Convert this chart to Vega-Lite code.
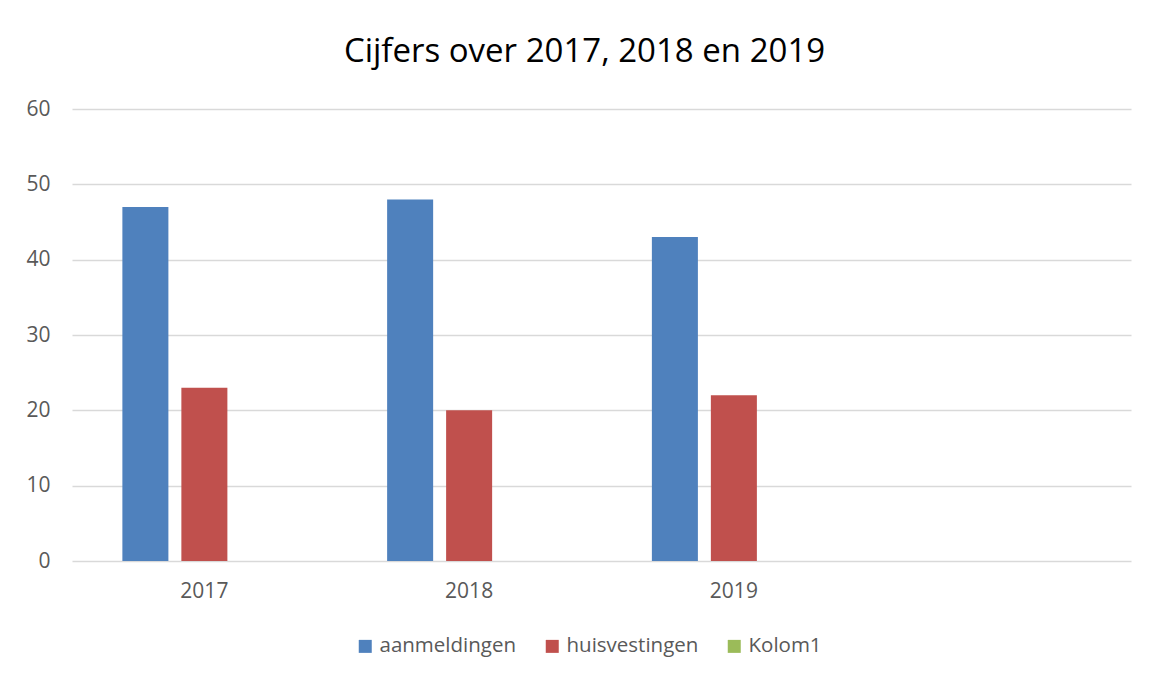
{
  "$schema": "https://vega.github.io/schema/vega-lite/v6.json",
  "autosize": {"type": "none"},
  "width": 1059,
  "height": 452,
  "padding": {"left": 72, "top": 109, "right": 22, "bottom": 113},
  "background": "white",
  "title": {
    "text": "Cijfers over 2017, 2018 en 2019",
    "font": "Open Sans",
    "fontSize": 33,
    "fontWeight": "normal",
    "color": "#000000",
    "anchor": "middle",
    "dx": -17,
    "offset": 29
  },
  "data": {
    "values": [
      {"jaar": "2017", "reeks": "aanmeldingen", "waarde": 47},
      {"jaar": "2017", "reeks": "huisvestingen", "waarde": 23},
      {"jaar": "2017", "reeks": "Kolom1", "waarde": 0},
      {"jaar": "2018", "reeks": "aanmeldingen", "waarde": 48},
      {"jaar": "2018", "reeks": "huisvestingen", "waarde": 20},
      {"jaar": "2018", "reeks": "Kolom1", "waarde": 0},
      {"jaar": "2019", "reeks": "aanmeldingen", "waarde": 43},
      {"jaar": "2019", "reeks": "huisvestingen", "waarde": 22},
      {"jaar": "2019", "reeks": "Kolom1", "waarde": 0}
    ]
  },
  "mark": {"type": "bar"},
  "encoding": {
    "x": {
      "field": "jaar",
      "type": "nominal",
      "scale": {"domain": ["2017", "2018", "2019", " "], "paddingInner": 0, "paddingOuter": 0},
      "axis": {
        "title": null,
        "labelAngle": 0,
        "ticks": false,
        "domain": false,
        "labelFont": "Open Sans",
        "labelFontSize": 21,
        "labelColor": "#595959",
        "labelPadding": 19
      }
    },
    "xOffset": {
      "field": "reeks",
      "type": "nominal",
      "scale": {"domain": ["aanmeldingen", "huisvestingen", "Kolom1"], "paddingInner": 0.22, "paddingOuter": 0.854}
    },
    "y": {
      "field": "waarde",
      "type": "quantitative",
      "scale": {"domain": [0, 60], "nice": false},
      "axis": {
        "title": null,
        "values": [0, 10, 20, 30, 40, 50, 60],
        "ticks": false,
        "domain": false,
        "grid": true,
        "gridColor": "#D9D9D9",
        "gridWidth": 1.3,
        "labelFont": "Open Sans",
        "labelFontSize": 21,
        "labelColor": "#595959",
        "labelPadding": 22
      }
    },
    "color": {
      "field": "reeks",
      "type": "nominal",
      "scale": {"domain": ["aanmeldingen", "huisvestingen", "Kolom1"], "range": ["#4F81BD", "#C0504D", "#9BBB59"]},
      "legend": {
        "title": null,
        "orient": "none",
        "legendX": 283,
        "legendY": 527,
        "direction": "horizontal",
        "symbolType": "square",
        "symbolSize": 169,
        "symbolStrokeWidth": 0,
        "labelFont": "Open Sans",
        "labelFontSize": 20.5,
        "labelColor": "#595959",
        "columnPadding": 25,
        "labelOffset": 4
      }
    }
  },
  "config": {
    "view": {"stroke": null},
    "axis": {"gridColor": "#D9D9D9"}
  }
}
